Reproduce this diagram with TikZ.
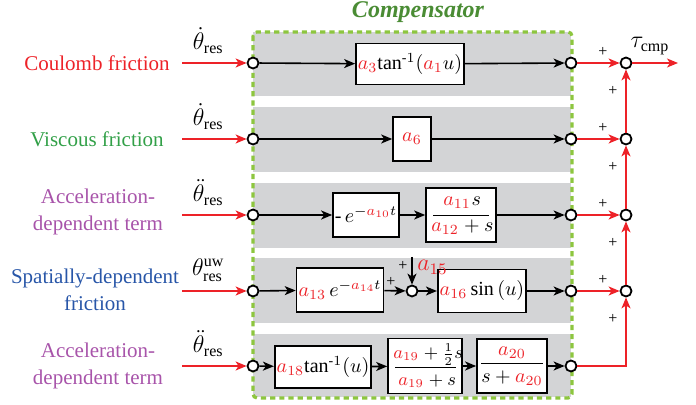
\documentclass[tikz,border=0pt]{standalone}
\usepackage{amsmath}
\usepackage{fontspec}
\setmainfont{Liberation Serif}
\usetikzlibrary{positioning, arrows.meta}
\definecolor{cmpgreen}{RGB}{141,198,63}
\definecolor{cmpdark}{RGB}{74,140,52}
\definecolor{sigred}{RGB}{237,34,40}
\definecolor{bandgray}{RGB}{211,212,214}
\definecolor{lblgreen}{RGB}{50,160,72}
\definecolor{lblpurple}{RGB}{168,84,170}
\definecolor{lblblue}{RGB}{40,86,168}
\newcommand{\pa}[1]{\textcolor{sigred}{#1}}
\tikzset{
  blk/.style={draw, line width=0.8pt, fill=white, inner sep=1pt},
  part/.style={inner sep=0pt, anchor=base west},
  pt/.style={circle, draw, line width=0.9pt, fill=white, inner sep=0pt, minimum size=5.5pt},
  sig/.style={-{Stealth[length=5.5pt, width=4.5pt, inset=1.5pt]}, line width=0.8pt},
  rsig/.style={-{Stealth[length=5.5pt, width=4.5pt, inset=1.5pt]}, line width=0.8pt, draw=sigred},
  band/.style={fill=bandgray, draw=none},
  src/.style={font=\fontsize{10.5}{13.5}\selectfont, align=center},
  plus/.style={font=\footnotesize, inner sep=0pt}
}

\begin{document}
\begin{tikzpicture}[x=0.5pt, y=-0.5pt]
  \useasboundingbox (0,0) rectangle (696,405);
  % gray bands, one per path
  \foreach \t/\b in {32/96, 107/172, 183/248, 258/323, 334/397}
    \fill[band] (253,\t) rectangle (571,\b);
  \draw[cmpgreen, line width=1.6pt, dash pattern=on 2.6pt off 2pt, rounded corners=2pt]
    (253,32) rectangle (572,398);
  \node[font=\large\bfseries\itshape, text=cmpdark] (title) at (418,12) {Compensator};

  % input / output points
  \foreach \i/\y in {1/63, 2/139, 3/215, 4/291, 5/366} {
    \node[pt] (in\i) at (253,\y) {};
    \node[pt] (out\i) at (571,\y) {};
    \coordinate (src\i) at (182,\y);
  }
  \foreach \i/\y in {1/63, 2/139, 3/215, 4/291}
    \node[pt] (s\i) at (626,\y) {};

  % source labels
  \node[src, text=sigred] (lbl1) at (97,63) {Coulomb friction};
  \node[src, text=lblgreen] (lbl2) at (97,139) {Viscous friction};
  \node[src, text=lblpurple] (lbl3) at (98,212) {Acceleration-\\dependent term};
  \node[src, text=lblblue] (lbl4) at (95,290) {Spatially-dependent\\friction};
  \node[src, text=lblpurple] (lbl5) at (98,366) {Acceleration-\\dependent term};

  % blocks
  \node[blk, minimum width=48.5pt, minimum height=20.5pt] (b1) at (410,64)
    {$\pa{a_{3}}\mathrm{tan}^{\text{-}1}(\pa{a_{1}}u)$};
  \node[blk, minimum width=19pt, minimum height=22pt] (b2) at (412,139) {$\pa{a_{6}}$};
  \node[blk, minimum width=33pt, minimum height=22pt] (b3a) at (366,215)
    {$\text{-}\,e^{-\pa{a_{10}}t}$};
  \node[blk, minimum width=35pt, minimum height=27pt] (b3b) at (461,215) {};
  \node[part, text=sigred] (n3r) at (443,206) {$a_{11}$};
  \node[part] (n3b) at (n3r.base east) {$s$};
  \draw[line width=0.4pt] (433,215) -- (489,215);
  \node[part, text=sigred] (d3r) at (431,232) {$a_{12}$};
  \node[part] (d3b) at (d3r.base east) {${}+s$};
  \node[blk, minimum width=37.5pt, minimum height=22pt] (b4a) at (340,290)
    {$\pa{a_{13}}\,e^{-\pa{a_{14}}t}$};
  \node[pt] (sa) at (412,291) {};
  \coordinate (a15in) at (412,257);
  \node[blk, minimum width=40.5pt, minimum height=21.5pt] (b4b) at (482,291)
    {$\pa{a_{16}}\sin{(u)}$};
  \node[blk, minimum width=44pt, minimum height=21pt] (b5a) at (323,367)
    {$\pa{a_{18}}\mathrm{tan}^{\text{-}1}(u)$};
  \node[blk, minimum width=37pt, minimum height=27.5pt] (b5b) at (425,366) {};
  \node[part, font=\small, text=sigred] (n5r) at (393,359) {$a_{19}$};
  \node[part, font=\small] (n5b) at (n5r.base east) {${}+\tfrac{1}{2}s$};
  \draw[line width=0.4pt] (395,367) -- (456,367);
  \node[part, font=\small, text=sigred] (d5r) at (398,386) {$a_{19}$};
  \node[part, font=\small] (d5b) at (d5r.base east) {${}+s$};
  \node[blk, minimum width=33pt, minimum height=27pt] (b5c) at (512,366)
    {$\dfrac{\pa{a_{20}}}{s+\pa{a_{20}}}$};

  % black paths
  \draw[sig] (in1) -- (b1);
  \draw[sig] (b1) -- (out1);
  \draw[sig] (in2) -- (b2);
  \draw[sig] (b2) -- (out2);
  \draw[sig] (in3) -- (b3a);
  \draw[sig] (b3a) -- (b3b);
  \draw[sig] (b3b) -- (out3);
  \draw[sig] (in4) -- (b4a);
  \draw[sig] (b4a) -- (sa);
  \draw[sig] (a15in) -- (sa);
  \draw[sig] (sa) -- (b4b);
  \draw[sig] (b4b) -- (out4);
  \draw[sig] (in5) -- (b5a);
  \draw[sig] (b5a) -- (b5b);
  \draw[sig] (b5b) -- (b5c);
  \draw[sig] (b5c) -- (out5);
  \node[plus] at (403,266) {+};
  \node[part, text=sigred, font=\large] (a15) at (417,271) {$a_{15}$};
  \node[plus] at (391,282) {+};

  % red inputs
  \draw[rsig] (src1) -- node[above=1pt, xshift=-3pt, font=\large] {$\dot\theta_{\mathrm{res}}$} (in1);
  \draw[rsig] (src2) -- node[above=1pt, xshift=-3pt, font=\large] {$\dot\theta_{\mathrm{res}}$} (in2);
  \draw[rsig] (src3) -- node[above=1pt, xshift=-3pt, font=\large] {$\ddot\theta_{\mathrm{res}}$} (in3);
  \draw[rsig] (src4) -- node[above=1pt, xshift=-3pt, font=\large] {$\theta^{\mathrm{uw}}_{\mathrm{res}}$} (in4);
  \draw[rsig] (src5) -- node[above=1pt, xshift=-3pt, font=\large] {$\ddot\theta_{\mathrm{res}}$} (in5);

  % summation
  \foreach \i/\y in {1/63, 2/139, 3/215, 4/291} {
    \draw[rsig] (out\i) -- (s\i);
    \node[plus] at (603,\y-11) {+};
    \node[plus] at (613,\y+28) {+};
  }
  \draw[rsig] (s2) -- (s1);
  \draw[rsig] (s3) -- (s2);
  \draw[rsig] (s4) -- (s3);
  \draw[rsig] (out5) -| (s4);
  \coordinate (tau) at (678,63);
  \draw[rsig] (s1) -- (tau);
  \node[font=\large] (taulbl) at (650,46) {$\tau_{\mathrm{cmp}}$};
\end{tikzpicture}
\end{document}
